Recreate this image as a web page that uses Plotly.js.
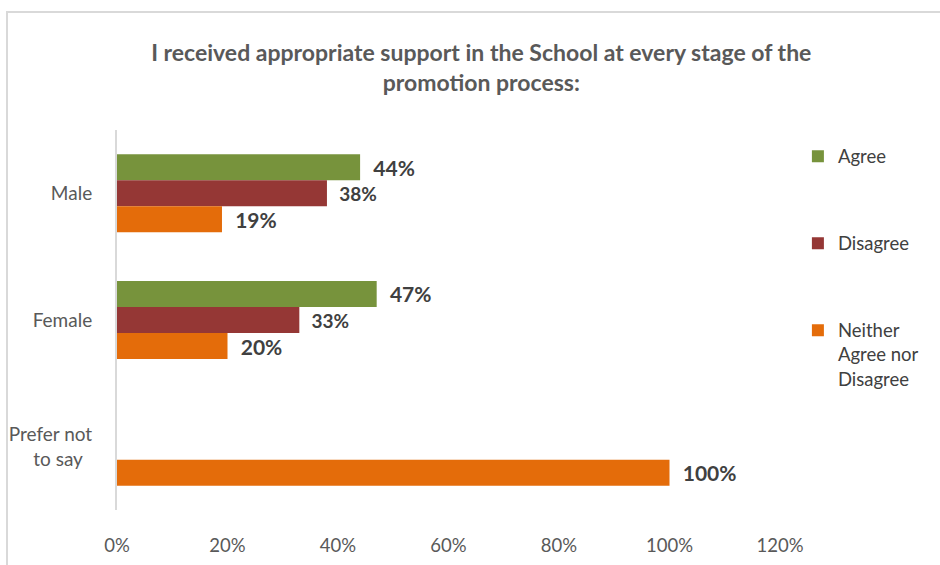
<!DOCTYPE html>
<html>
<head>
<meta charset="utf-8">
<script src="https://cdn.plot.ly/plotly-3.0.1.min.js"></script>
<style>
  html, body { margin: 0; padding: 0; background: #fff; }
  #wrap { position: relative; width: 940px; height: 565px; }
  #chart { width: 940px; height: 565px; }
  #frame {
    position: absolute; left: 6px; top: 11px; right: 0; bottom: 0;
    border-left: 2px solid #d9d9d9; border-top: 2px solid #d9d9d9;
    pointer-events: none;
  }
</style>
</head>
<body>
<div id="wrap">
  <div id="chart"></div>
  <div id="frame"></div>
</div>
<script>
// Survey responses by gender (share of respondents)
const categories = ['Male', 'Female', 'Prefer not to say'];
const categoryLabels = ['Male', 'Female', 'Prefer not<br>to say\u00a0\u00a0'];
const agree    = [0.44, 0.47, 0];
const disagree = [0.38, 0.33, 0];
const neither  = [0.19, 0.20, 1.00];
const xTicks = [0, 0.2, 0.4, 0.6, 0.8, 1.0, 1.2];

const FONT = 'Lato, "Open Sans", sans-serif';

function labels(vals) {
  return vals.map(v => v > 0 ? '\u00a0\u00a0' + Math.round(v * 100) + '%' : '');
}

function series(name, vals, color, size) {
  return {
    type: 'bar',
    orientation: 'h',
    name: name,
    legendgroup: name,
    x: vals,
    y: categories,
    marker: { color: color },
    text: labels(vals),
    textposition: 'outside',
    constraintext: 'none',
    cliponaxis: false,
    textfont: { family: FONT, size: size, color: '#404040', weight: 'bold' },
    hoverinfo: 'x+name'
  };
}

const data = [
  series('Agree', agree, '#77933C', 21),
  series('Disagree', disagree, '#953735', 19),
  series('Neither<br>Agree nor<br>Disagree', neither, '#E46C0A', 21)
];

const layout = {
  width: 940,
  height: 565,
  margin: { l: 117, r: 160, t: 130, b: 55 },
  paper_bgcolor: '#fff',
  plot_bgcolor: '#fff',
  font: { family: FONT, color: '#595959', size: 18 },
  title: {
    text: 'I received appropriate support in the School at every stage of the<br>promotion process:',
    font: { family: FONT, size: 23, color: '#595959', weight: 'bold' },
    x: 0.512, xanchor: 'center',
    y: 0.892, yanchor: 'middle'
  },
  barmode: 'group',
  bargap: 0.384,
  bargroupgap: 0,
  xaxis: {
    range: [0, 1.2],
    tickvals: xTicks,
    tickformat: '.0%',
    showgrid: false,
    zeroline: false,
    showline: false,
    ticks: '',
    ticklabelstandoff: 22,
    tickfont: { family: FONT, size: 18.5, color: '#595959' },
    fixedrange: true
  },
  yaxis: {
    autorange: 'reversed',
    tickvals: categories,
    ticktext: categoryLabels,
    showgrid: false,
    zeroline: false,
    showline: true,
    linecolor: '#d9d9d9',
    linewidth: 2,
    ticks: '',
    ticklabelstandoff: 19,
    tickfont: { family: FONT, size: 19, color: '#595959' },
    fixedrange: true
  },
  showlegend: true,
  legend: {
    x: 1.027, xanchor: 'left',
    y: 0.98, yanchor: 'top',
    valign: 'top',
    tracegroupgap: 60,
    itemwidth: 30,
    font: { family: FONT, size: 18.5, color: '#404040' },
    bgcolor: 'rgba(0,0,0,0)'
  }
};

Plotly.newPlot('chart', data, layout, { displayModeBar: false, staticPlot: true });
</script>
</body>
</html>
